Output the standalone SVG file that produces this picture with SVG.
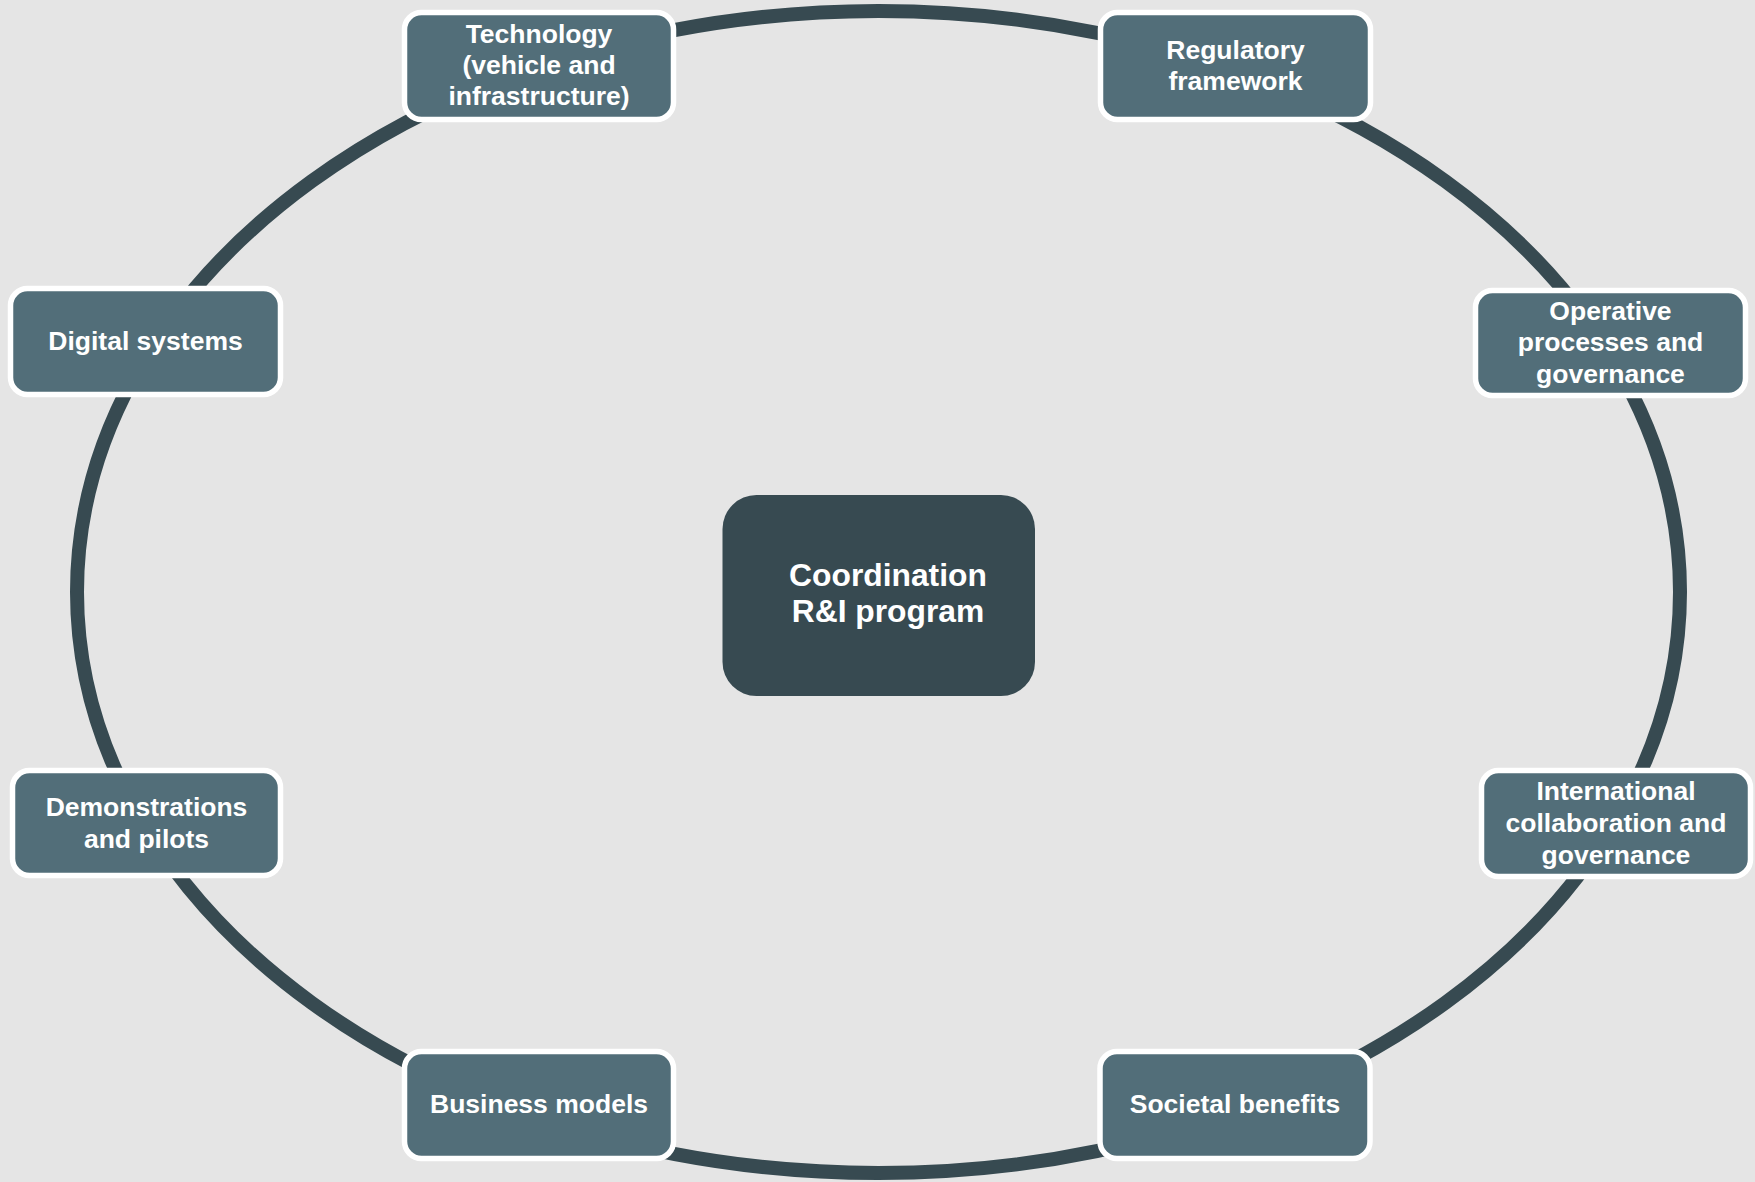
<svg xmlns="http://www.w3.org/2000/svg" width="1755" height="1182" viewBox="0 0 1755 1182">
<style>
.node rect{fill:#526e79;stroke:#ffffff;stroke-width:5.5}
.node text,.center text{font-family:"Liberation Sans",Arial,Helvetica,sans-serif;font-weight:bold;fill:#ffffff;text-anchor:middle}
.node text{font-size:26.5px}
.center text{font-size:31.8px}
.ring{fill:none;stroke:#374a51;stroke-width:14}
</style>
<rect x="0" y="0" width="1755" height="1182" fill="#e5e5e5"/>
<g id="connectors">
<ellipse class="ring" cx="878.5" cy="592" rx="801.5" ry="581"/>
</g>
<g id="center" class="center">
<rect x="722.5" y="495" width="312.5" height="201" rx="34" fill="#374a51"/>
<text x="888" y="586">Coordination</text>
<text x="888" y="622">R&amp;I program</text>
</g>
<g id="technology" class="node">
<rect x="404.5" y="12.5" width="269" height="107" rx="17"/>
<text x="539" y="42.5">Technology</text>
<text x="539" y="74">(vehicle and</text>
<text x="539" y="105">infrastructure)</text>
</g>
<g id="regulatory" class="node">
<rect x="1100.5" y="12.5" width="270" height="107" rx="17"/>
<text x="1235.5" y="58.5">Regulatory</text>
<text x="1235.5" y="90">framework</text>
</g>
<g id="digital" class="node">
<rect x="10.5" y="288.5" width="270" height="106" rx="17"/>
<text x="145.5" y="349.5">Digital systems</text>
</g>
<g id="operative" class="node">
<rect x="1475.5" y="290.5" width="270" height="105" rx="17"/>
<text x="1610.5" y="319.5">Operative</text>
<text x="1610.5" y="351">processes and</text>
<text x="1610.5" y="382.5">governance</text>
</g>
<g id="demonstrations" class="node">
<rect x="12.5" y="770.5" width="268" height="105" rx="17"/>
<text x="146.5" y="815.5">Demonstrations</text>
<text x="146.5" y="847.5">and pilots</text>
</g>
<g id="international" class="node">
<rect x="1481.5" y="770.5" width="269" height="106" rx="17"/>
<text x="1616" y="800">International</text>
<text x="1616" y="832">collaboration and</text>
<text x="1616" y="863.5">governance</text>
</g>
<g id="business" class="node">
<rect x="404.5" y="1051.5" width="269" height="107" rx="17"/>
<text x="539" y="1112.5">Business models</text>
</g>
<g id="societal" class="node">
<rect x="1100" y="1051.5" width="270" height="107" rx="17"/>
<text x="1235" y="1112.5">Societal benefits</text>
</g>
</svg>
